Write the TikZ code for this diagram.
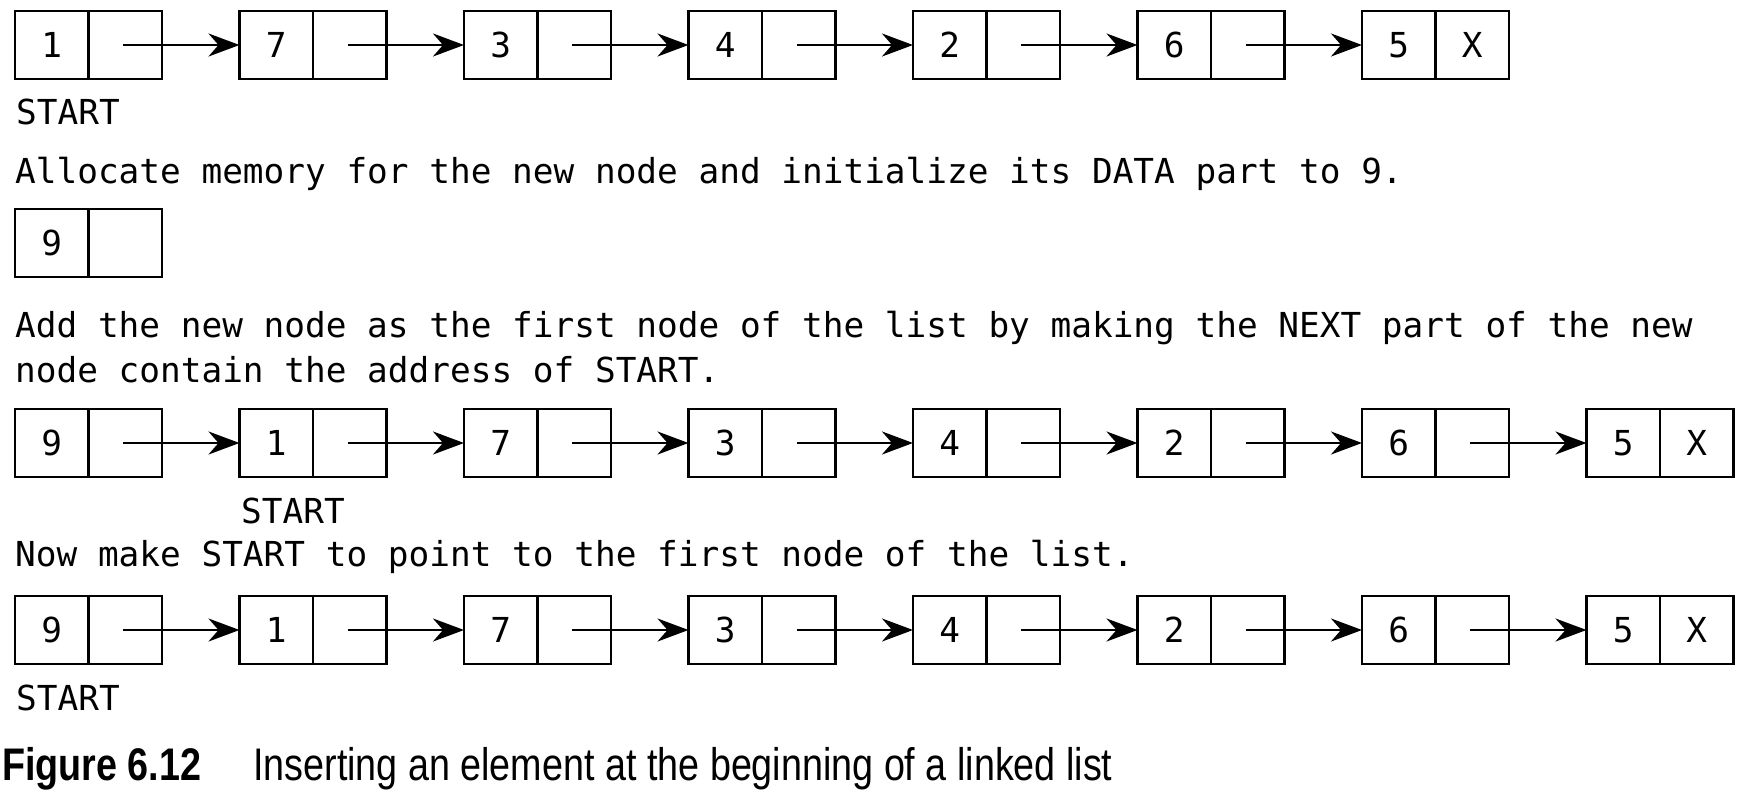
\documentclass[tikz,border=0pt]{standalone}
\usepackage{fontspec}
\usetikzlibrary{arrows.meta}
\newfontfamily\monofnt{DejaVu Sans Mono}
\newfontfamily\capfnt[FakeStretch=0.825]{Liberation Sans}
\newcommand{\mytxt}{\monofnt\fontsize{34.4}{40}\selectfont}
\tikzset{
  cell/.style={draw, line width=2.8pt, minimum width=73.5pt, minimum height=68pt, inner sep=0pt, outer sep=0pt, font=\mytxt},
  arr/.style={line width=2.5pt, -{Stealth[length=31pt,width=23pt,inset=10pt]}},
  lbl/.style={anchor=base west, inner sep=0pt, font=\mytxt},
  captxt/.style={anchor=base west, inner sep=0pt, font=\capfnt\fontsize{45.7}{50}\selectfont}
}
\begin{document}
\begin{tikzpicture}[x=1pt,y=-1pt]
\useasboundingbox[fill=white] (0,0) rectangle (1741,803);
% row 1
\foreach \v [count=\i] in {1,7,3,4,2,6,5}{
  \node[cell] (r1a\i) at ({15+36.75+224.5*(\i-1)},45) {\v};
  \node[cell, anchor=west] (r1b\i) at (r1a\i.east) {\ifnum\i=7 X\fi};
}
\foreach \i [evaluate=\i as \j using int(\i+1)] in {1,...,6}{
  \draw[arr] ([xshift=-2pt]r1b\i.center) -- (r1a\j.west);
}
\node[lbl] (s1) at (16,124) {START};
\node[lbl] (t1) at (15,183) {Allocate memory for the new node and initialize its DATA part to 9.};
% row 2
\node[cell] (r2a1) at ({15+36.75},243) {9};
\node[cell, anchor=west] (r2b1) at (r2a1.east) {};
\node[lbl] (t2) at (15,337) {Add the new node as the first node of the list by making the NEXT part of the new};
\node[lbl] (t3) at (15,382) {node contain the address of START.};
% row 3
\foreach \v [count=\i] in {9,1,7,3,4,2,6,5}{
  \node[cell] (r3a\i) at ({15+36.75+224.5*(\i-1)},443) {\v};
  \node[cell, anchor=west] (r3b\i) at (r3a\i.east) {\ifnum\i=8 X\fi};
}
\foreach \i [evaluate=\i as \j using int(\i+1)] in {1,...,7}{
  \draw[arr] ([xshift=-2pt]r3b\i.center) -- (r3a\j.west);
}
\node[lbl] (s3) at (241,523) {START};
\node[lbl] (t4) at (15,566) {Now make START to point to the first node of the list.};
% row 4
\foreach \v [count=\i] in {9,1,7,3,4,2,6,5}{
  \node[cell] (r4a\i) at ({15+36.75+224.5*(\i-1)},630) {\v};
  \node[cell, anchor=west] (r4b\i) at (r4a\i.east) {\ifnum\i=8 X\fi};
}
\foreach \i [evaluate=\i as \j using int(\i+1)] in {1,...,7}{
  \draw[arr] ([xshift=-2pt]r4b\i.center) -- (r4a\j.west);
}
\node[lbl] (s4) at (16,710) {START};
% caption
\node[captxt] (c1) at (2,780) {\bfseries Figure 6.12};
\node[captxt] (c2) at (253,780) {Inserting an element at the beginning of a linked list};
\end{tikzpicture}
\end{document}
